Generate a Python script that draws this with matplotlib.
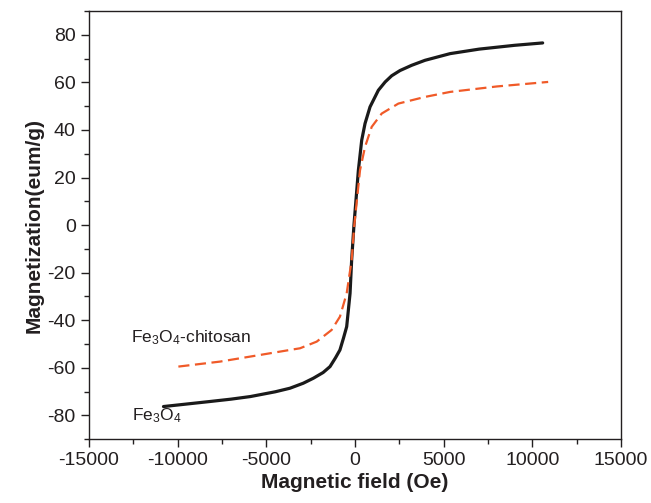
import numpy as np
import matplotlib
matplotlib.use("Agg")
import matplotlib.pyplot as plt
from matplotlib.ticker import MultipleLocator

plt.rcParams['font.family'] = ['Liberation Sans', 'DejaVu Sans']
plt.rcParams['axes.unicode_minus'] = False
plt.rcParams['mathtext.fontset'] = 'custom'
plt.rcParams['mathtext.rm'] = 'Liberation Sans'
plt.rcParams['mathtext.it'] = 'Liberation Sans:italic'
plt.rcParams['mathtext.bf'] = 'Liberation Sans:bold'

# Fe3O4 (black, solid)
h_fe = [-10800, -8200, -7000, -5900, -4500, -3670, -2920, -2350, -1800, -1410, -1100, -850,
        -650, -470, -280, -190, -60, 190, 377, 564, 846, 1316, 1700, 2068, 2540, 3196,
        3948, 5360, 7000, 9000, 10580]
m_fe = [-76.3, -74.2, -73.2, -72.1, -70.1, -68.6, -66.5, -64.4, -62.0, -59.5, -55.8, -52.5,
        -47.5, -42.7, -28.7, -14.7, 0, 23.1, 35.7, 42.7, 49.7, 56.7, 60.2, 62.8, 65.0, 67.2,
        69.3, 72.1, 74.0, 75.6, 76.6]

# Fe3O4-chitosan (orange, dashed)
h_ch = [-9960, -7610, -5350, -3670, -3100, -2160, -1320, -850, -470, -190, -40,
        282, 564, 940, 1504, 2444, 3948, 5360, 8000, 10890]
m_ch = [-59.5, -57.4, -54.6, -52.5, -51.8, -49.0, -44.1, -38.5, -28.7, -14.7, 0,
        23.1, 32.9, 41.3, 46.9, 51.1, 53.9, 56.0, 58.3, 60.2]

fig = plt.figure(figsize=(6.51, 5.03), dpi=100)
ax = fig.add_axes([0.1367, 0.127, 0.8173, 0.851])

ax.plot(h_fe, m_fe, color='#1a1a1a', lw=2.3, solid_capstyle='round', solid_joinstyle='round')
ax.plot(h_ch, m_ch, color='#f05a28', lw=1.6, dashes=(5, 2.5))

ax.set_xlim(-15000, 15000)
ax.set_ylim(-90, 90)
ax.xaxis.set_major_locator(MultipleLocator(5000))
ax.xaxis.set_minor_locator(MultipleLocator(2500))
ax.yaxis.set_major_locator(MultipleLocator(20))
ax.yaxis.set_minor_locator(MultipleLocator(10))
ax.tick_params(which='major', direction='out', length=6, width=1, labelsize=14,
               colors='#231f20', top=False, right=False)
ax.tick_params(which='minor', direction='out', length=3.5, width=1, colors='#231f20',
               top=False, right=False)
for s in ax.spines.values():
    s.set_linewidth(1)
    s.set_color('#231f20')

ax.set_xlabel('Magnetic field (Oe)', fontsize=15, fontweight='bold', color='#231f20', labelpad=3)
ax.set_ylabel('Magnetization(eum/g)', fontsize=15, fontweight='bold', color='#231f20', labelpad=3)

ax.text(-12650, -47.5, r'Fe$_3$O$_4$-chitosan', fontsize=12.5, color='#231f20', va='center')
ax.text(-12550, -80, r'Fe$_3$O$_4$', fontsize=12.5, color='#231f20', va='center')

fig.savefig('out.png', dpi=100)
